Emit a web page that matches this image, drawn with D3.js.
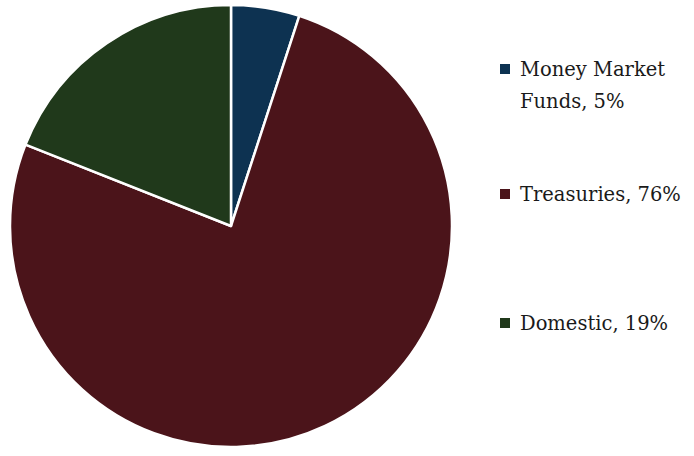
<!DOCTYPE html>
<html lang="en">
<head>
  <meta charset="UTF-8">
  <title>Allocation</title>
  <script src="https://d3js.org/d3.v7.min.js"></script>
  <style>
    body { margin: 0; background: #fff; }
  </style>
</head>
<body>
  <script>
    // data
    const categories = ['Money Market Funds', 'Treasuries', 'Domestic'];
    const values = [5, 76, 19];
    const legendLines = [['Money Market', 'Funds, 5%'], ['Treasuries, 76%'], ['Domestic, 19%']];
    const colors = ['#0d3251', '#4b141a', '#20391b'];

    const width = 694;
    const height = 456;
    const cx = 231, cy = 226, r = 221;

    const svg = d3.select('body').append('svg')
      .attr('width', width)
      .attr('height', height);

    const pie = d3.pie().sort(null).value(d => d)(values);
    const arc = d3.arc().innerRadius(0).outerRadius(r);

    svg.append('g')
      .attr('transform', `translate(${cx},${cy})`)
      .selectAll('path')
      .data(pie)
      .enter().append('path')
      .attr('d', arc)
      .attr('fill', (d, i) => colors[i])
      .attr('stroke', '#fff')
      .attr('stroke-width', 2.5)
      .attr('stroke-linejoin', 'round');

    // legend
    const legendY = [69, 194, 323];
    const legend = svg.append('g')
      .selectAll('g')
      .data(categories)
      .enter().append('g')
      .attr('transform', (d, i) => `translate(500,${legendY[i]})`);

    legend.append('rect')
      .attr('x', 0)
      .attr('y', -5)
      .attr('width', 10)
      .attr('height', 10)
      .attr('fill', (d, i) => colors[i]);

    legend.append('text')
      .attr('x', 20)
      .attr('y', 7)
      .attr('font-family', "'DejaVu Serif'")
      .attr('font-size', 19.5)
      .attr('fill', '#1a1a1a')
      .each(function(d, i) {
        d3.select(this).selectAll('tspan')
          .data(legendLines[i])
          .enter().append('tspan')
          .attr('x', 20)
          .attr('dy', (t, j) => j === 0 ? 0 : 32)
          .text(t => t);
      });
  </script>
</body>
</html>
